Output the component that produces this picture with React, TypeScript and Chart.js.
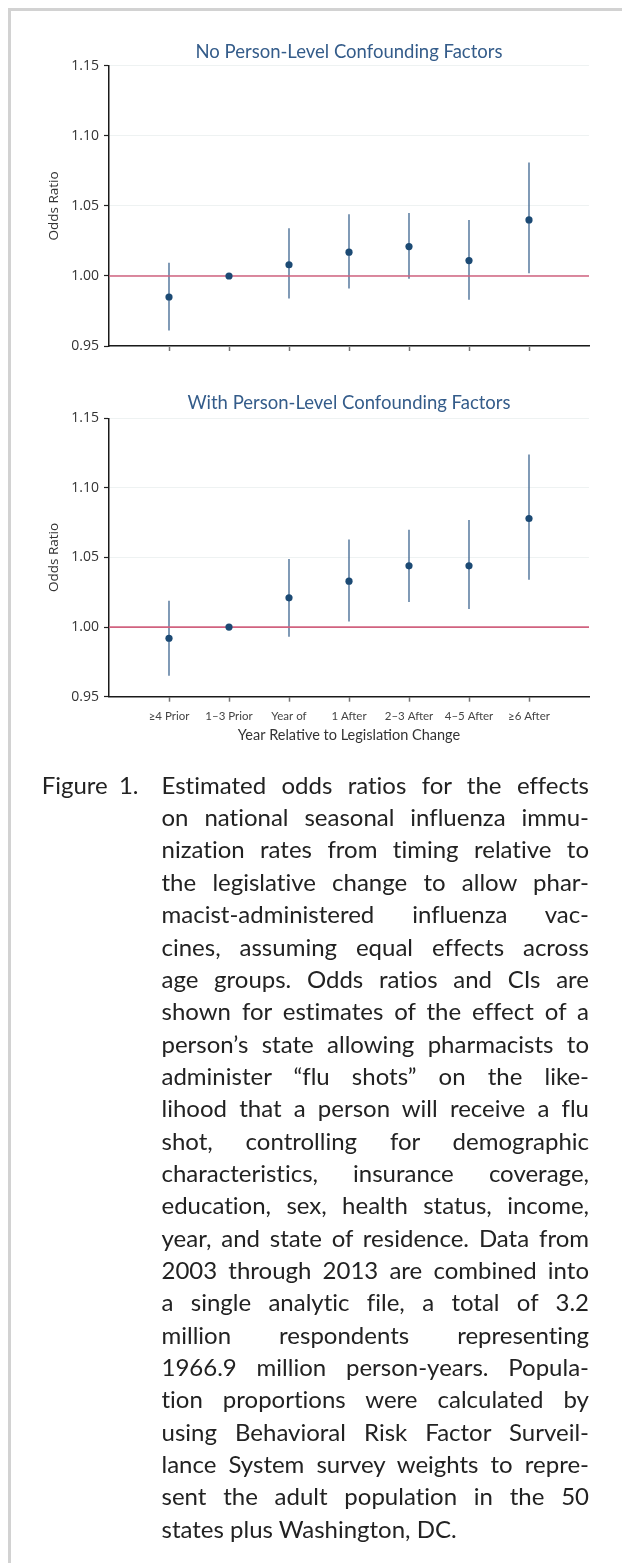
import React, { useEffect, useRef } from "react";
import { Chart, registerables } from "chart.js";

Chart.register(...registerables);

// ---------- data ----------
const categories = ["≥4 Prior", "1–3 Prior", "Year of", "1 After", "2–3 After", "4–5 After", "≥6 After"];
const yTickValues = [0.95, 1.0, 1.05, 1.1, 1.15];

const noConfOR = [0.985, 1.0, 1.008, 1.017, 1.021, 1.011, 1.04];
const noConfLow = [0.961, null, 0.984, 0.991, 0.998, 0.983, 1.002];
const noConfHigh = [1.0095, null, 1.034, 1.044, 1.045, 1.04, 1.081];

const withConfOR = [0.992, 1.0, 1.021, 1.033, 1.044, 1.044, 1.078];
const withConfLow = [0.965, null, 0.993, 1.004, 1.018, 1.013, 1.034];
const withConfHigh = [1.019, null, 1.049, 1.063, 1.07, 1.077, 1.124];

const referenceValue = 1.0;

const captionLabel = "Figure 1.";
const captionLines = [
  "Estimated odds ratios for the effects",
  "on national seasonal influenza immu-",
  "nization rates from timing relative to",
  "the legislative change to allow phar-",
  "macist-administered influenza vac-",
  "cines, assuming equal effects across",
  "age groups. Odds ratios and CIs are",
  "shown for estimates of the effect of a",
  "person’s state allowing pharmacists to",
  "administer “flu shots” on the like-",
  "lihood that a person will receive a flu",
  "shot, controlling for demographic",
  "characteristics, insurance coverage,",
  "education, sex, health status, income,",
  "year, and state of residence. Data from",
  "2003 through 2013 are combined into",
  "a single analytic file, a total of 3.2",
  "million respondents representing",
  "1966.9 million person-years. Popula-",
  "tion proportions were calculated by",
  "using Behavioral Risk Factor Surveil-",
  "lance System survey weights to repre-",
  "sent the adult population in the 50",
  "states plus Washington, DC.",
];

// ---------- plugin ----------
const errorBarPlugin = {
  id: "errorBars",
  beforeDatasetsDraw(chart: any, _args: any, opts: any) {
    const { ctx, scales } = chart;
    const x = scales.x;
    const y = scales.y;
    const low: (number | null)[] = opts.low || [];
    const high: (number | null)[] = opts.high || [];
    ctx.save();
    ctx.strokeStyle = opts.color;
    ctx.lineWidth = opts.width;
    low.forEach((l, i) => {
      const h = high[i];
      if (l == null || h == null) return;
      const px = x.getPixelForValue(i + 1);
      ctx.beginPath();
      ctx.moveTo(px, y.getPixelForValue(l));
      ctx.lineTo(px, y.getPixelForValue(h));
      ctx.stroke();
    });
    ctx.restore();
  },
};

type PanelProps = {
  title: string;
  or: number[];
  low: (number | null)[];
  high: (number | null)[];
  showXLabels: boolean;
  height: number;
  titlePad: { top: number; bottom: number };
  xHeight: number;
  top: number;
};

const CANVAS_W = 614;

function Panel(props: PanelProps) {
  const ref = useRef<HTMLCanvasElement | null>(null);
  useEffect(() => {
    if (!ref.current) return;
    const chart = new Chart(ref.current, {
      type: "scatter",
      data: {
        datasets: [
          {
            label: "ref",
            data: [
              { x: 0, y: referenceValue },
              { x: categories.length + 1, y: referenceValue },
            ],
            showLine: true,
            borderColor: "#d1627f",
            borderWidth: 1.6,
            pointRadius: 0,
            order: 2,
          } as any,
          {
            label: "OR",
            data: props.or.map((v, i) => ({ x: i + 1, y: v })),
            backgroundColor: "#1c4a74",
            borderWidth: 0,
            pointRadius: 3.6,
            order: 1,
          },
        ],
      },
      options: {
        responsive: false,
        animation: false,
        devicePixelRatio: 1,
        layout: { padding: { left: 0, right: 33, top: 0, bottom: 0 } },
        plugins: {
          legend: { display: false },
          tooltip: { enabled: false },
          title: {
            display: true,
            fullSize: false,
            text: props.title,
            color: "#345c8a",
            font: { family: "Lato", size: 18.5, weight: "normal" },
            padding: props.titlePad,
          },
          errorBars: { low: props.low, high: props.high, color: "#3d6590", width: 1.3 },
        } as any,
        scales: {
          x: {
            type: "linear",
            min: 0,
            max: categories.length + 1,
            afterBuildTicks: (s: any) => {
              s.ticks = categories.map((_, i) => ({ value: i + 1 }));
            },
            afterFit: (s: any) => {
              s.height = props.xHeight;
            },
            ticks: {
              autoSkip: false,
              maxRotation: 0,
              padding: 7.4,
              color: "#444",
              font: { family: "Lato", size: 11.5 },
              callback: (v: any) => (props.showXLabels ? categories[Number(v) - 1] ?? "" : ""),
            },
            grid: {
              drawOnChartArea: false,
              drawTicks: true,
              tickLength: 5,
              tickColor: "#777",
              tickWidth: 1.5,
            },
            border: { color: "#1a1a1a", width: 1.5 },
            title: {
              display: props.showXLabels,
              text: "Year Relative to Legislation Change",
              color: "#333",
              font: { family: "Lato", size: 14.5 },
              padding: { top: 0, bottom: 6.3 },
            },
          },
          y: {
            type: "linear",
            min: yTickValues[0],
            max: yTickValues[yTickValues.length - 1],
            afterBuildTicks: (s: any) => {
              s.ticks = yTickValues.map((v) => ({ value: v }));
            },
            afterFit: (s: any) => {
              s.width = 101;
            },
            ticks: {
              padding: 5,
              color: "#333",
              font: { family: "Open Sans", size: 14 },
              callback: (v: any) => Number(v).toFixed(2),
            },
            grid: {
              color: "#eef2f2",
              lineWidth: 1,
              drawTicks: true,
              tickLength: 5,
              tickColor: "#222",
              tickWidth: 1.2,
            },
            border: { color: "#1a1a1a", width: 1.5 },
            title: {
              display: true,
              text: "Odds Ratio",
              color: "#333",
              font: { family: "Open Sans", size: 13.5 },
              padding: { top: 37.9, bottom: 0 },
            },
          },
        },
      },
      plugins: [errorBarPlugin as any],
    });
    return () => chart.destroy();
  }, []);
  return (
    <canvas
      ref={ref}
      width={CANVAS_W}
      height={props.height}
      style={{ position: "absolute", left: 0, top: props.top, width: CANVAS_W, height: props.height, display: "block" }}
    />
  );
}

export default function App() {
  return (
    <div style={{ position: "relative", width: 614, height: 1540, background: "#fff" }}>
      <div
        style={{
          position: "fixed",
          left: 8,
          top: 8,
          width: 800,
          height: 1700,
          borderLeft: "3px solid #d2d2d2",
          borderTop: "3px solid #d2d2d2",
          pointerEvents: "none",
        }}
      />
      <Panel
        title="No Person-Level Confounding Factors"
        or={noConfOR}
        low={noConfLow}
        high={noConfHigh}
        showXLabels={false}
        height={340}
        titlePad={{ top: 20.9, bottom: 2.8 }}
        xHeight={14}
        top={12}
      />
      <Panel
        title="With Person-Level Confounding Factors"
        or={withConfOR}
        low={withConfLow}
        high={withConfHigh}
        showXLabels={true}
        height={390}
        titlePad={{ top: 32.2, bottom: 3.9 }}
        xHeight={53.3}
        top={352}
      />
      <div
        style={{
          position: "absolute",
          top: 760.8,
          left: 0,
          width: 614,
          fontFamily: "Lato",
          fontSize: 24,
          lineHeight: "32.35px",
          color: "#222",
          fontVariantLigatures: "no-common-ligatures",
        }}
      >
        <div style={{ position: "absolute", left: 33.7, top: 0, wordSpacing: 5 }}>{captionLabel}</div>
        <div style={{ position: "absolute", left: 153.5, top: 0, width: 427.5 }}>
          {captionLines.map((line, i) => (
            <div
              key={i}
              style={{
                whiteSpace: "nowrap",
                textAlign: "justify",
                textAlignLast: i === captionLines.length - 1 ? "left" : "justify",
              }}
            >
              {line}
            </div>
          ))}
        </div>
      </div>
    </div>
  );
}
